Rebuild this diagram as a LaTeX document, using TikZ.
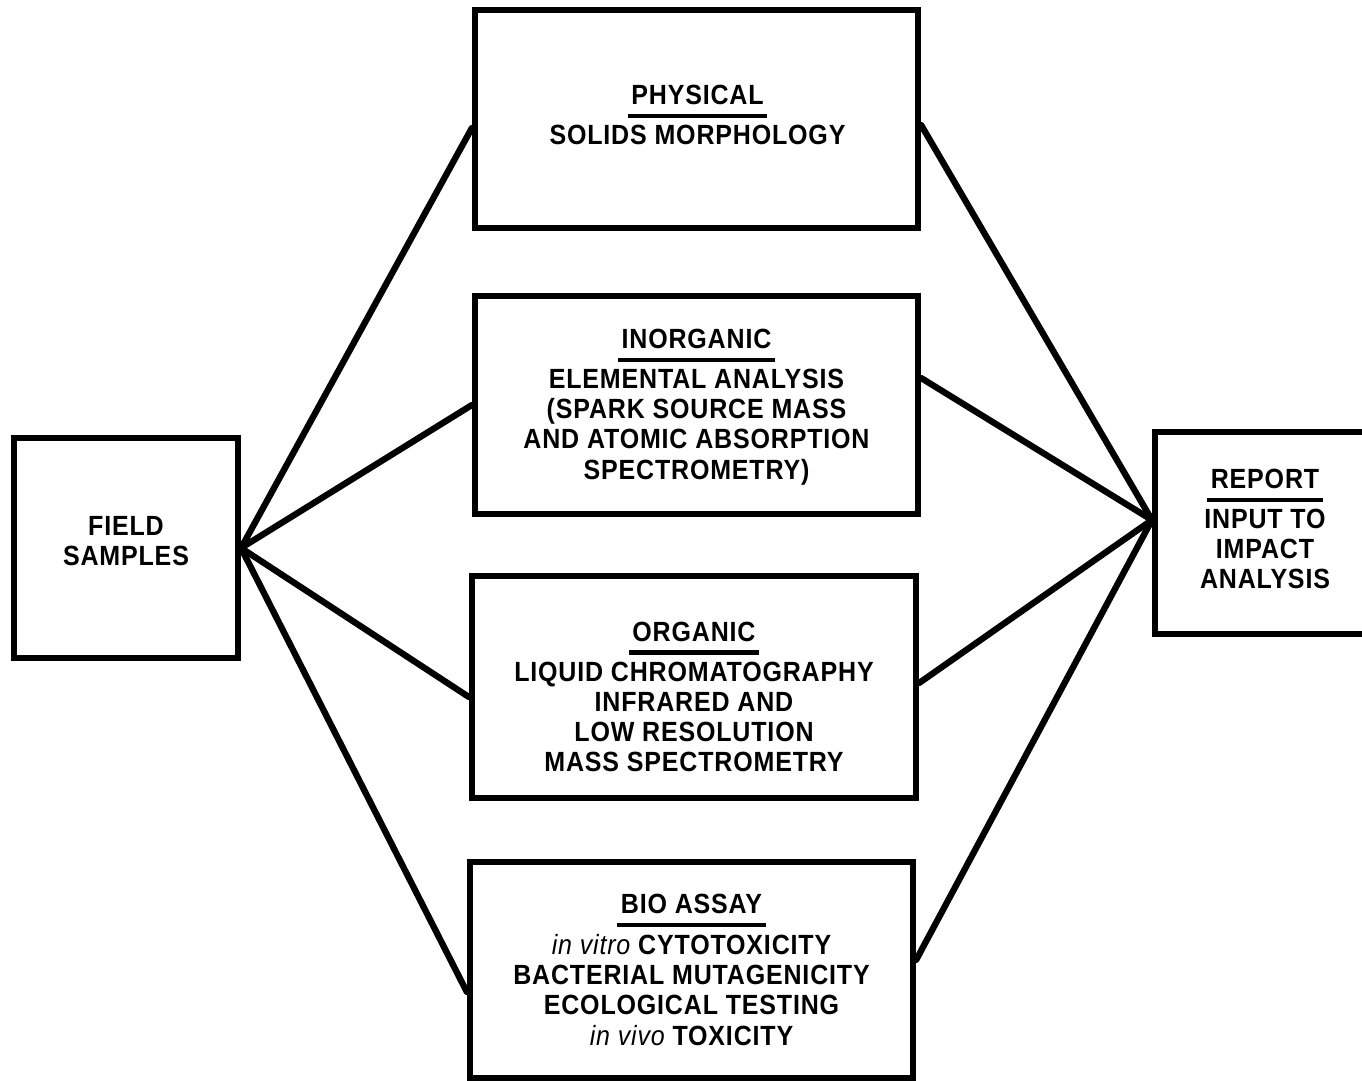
\documentclass[tikz,border=0pt]{standalone}
\usepackage{fontspec}
\setmainfont{Liberation Sans}[FakeStretch=0.9,LetterSpace=3]
\usetikzlibrary{calc}
\newcommand\hdr[1]{\vtop{\hbox{\kern1pt#1\kern1pt}\kern2.5pt\hrule height 1.2pt\kern1pt}}
\begin{document}
\begin{tikzpicture}[x=0.01cm,y=-0.01cm,
  box/.style={draw,line width=1.7pt,fill=white,inner sep=0pt},
  txt/.style={align=center,inner sep=0pt,font=\fontsize{7.9}{8.6}\selectfont\bfseries},
  link/.style={line width=1.8pt,line cap=round}]
\useasboundingbox (0,0) rectangle (1362,1081);
\node[box,minimum width=4.43cm,minimum height=2.18cm] (phys) at (696.5,119) {};
\node[box,minimum width=4.43cm,minimum height=2.18cm] (inorg) at (696.5,405) {};
\node[box,minimum width=4.44cm,minimum height=2.22cm] (org) at (694,687) {};
\node[box,minimum width=4.43cm,minimum height=2.16cm] (bio) at (691.5,970) {};
\node[box,minimum width=2.24cm,minimum height=2.2cm] (field) at (126,548) {};
\node[box,minimum width=2.2cm,minimum height=2.02cm] (report) at (1265,533) {};
% texts
\node[txt] (physT) at ($(phys)+(1,-4)$) {\hdr{PHYSICAL}\\SOLIDS MORPHOLOGY};
\node[txt] (inorgT) at ($(inorg)+(0,2)$)
  {\hdr{INORGANIC}\\ELEMENTAL ANALYSIS\\(SPARK SOURCE MASS\\AND ATOMIC ABSORPTION\\SPECTROMETRY)};
\node[txt] (orgT) at ($(org)+(0,10)$)
  {\hdr{ORGANIC}\\LIQUID CHROMATOGRAPHY\\INFRARED AND\\LOW RESOLUTION\\MASS SPECTROMETRY};
\node[txt] (bioT) at ($(bio)+(0,0)$)
  {\hdr{BIO ASSAY}\\{\mdseries\itshape in vitro} CYTOTOXICITY\\BACTERIAL MUTAGENICITY\\ECOLOGICAL TESTING\\{\mdseries\itshape in vivo} TOXICITY};
\node[txt] (fieldT) at ($(field)+(0,-7)$) {FIELD\\SAMPLES};
\node[txt] (reportT) at ($(report)+(0,-4)$) {\hdr{REPORT}\\INPUT TO\\IMPACT\\ANALYSIS};
% connectors
\coordinate (rp) at ($(report.west)+(0,-13)$);
\draw[link] (field.east) -- ($(phys.west)+(0,9)$);
\draw[link] (field.east) -- (inorg.west);
\draw[link] (field.east) -- ($(org.west)+(0,10)$);
\draw[link] (field.east) -- ($(bio.west)+(0,22)$);
\draw[link] ($(phys.east)+(0,6)$) -- (rp);
\draw[link] ($(inorg.east)+(0,-27)$) -- (rp);
\draw[link] ($(org.east)+(0,-4)$) -- (rp);
\draw[link] ($(bio.east)+(0,-10)$) -- (rp);
\end{tikzpicture}
\end{document}
